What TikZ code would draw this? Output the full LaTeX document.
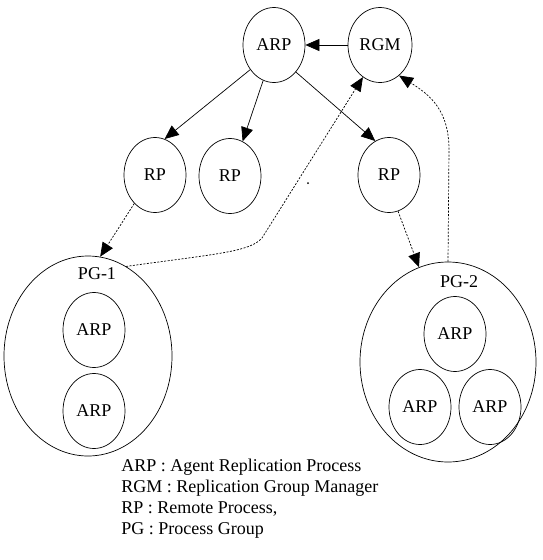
\documentclass[tikz,border=0pt]{standalone}
\usepackage{fontspec}
\setmainfont{Liberation Serif}
\usetikzlibrary{shapes.geometric,arrows.meta}
\begin{document}
\begin{tikzpicture}[x=1pt,y=-1pt, line width=0.7pt,
    proc/.style={draw, ellipse, inner sep=0pt, minimum width=62pt, minimum height=75pt, font=\fontsize{18}{21}\selectfont},
    group/.style={draw, ellipse, inner sep=0pt},
    lbl/.style={font=\fontsize{18}{21}\selectfont},
    legend/.style={anchor=west, inner sep=0pt, font=\fontsize{18}{21}\selectfont},
    sendto/.style={-{Triangle[length=14pt,width=12pt]}},
    linkto/.style={dash pattern=on 2pt off 1.5pt, -{Triangle[length=14pt,width=12pt]}}]
                \useasboundingbox (0,0) rectangle (543,560);

                % top: agent and manager
                \node[proc] (arp) at (274,45) {ARP};
                \node[proc, minimum width=64pt] (rgm) at (380,45) {RGM};

                % remote processes
                \node[proc] (rp1) at (155,175) {RP};
                \node[proc] (rp2) at (230,176) {RP};
                \node[proc] (rp3) at (389,175) {RP};

                % process groups
                \node[group, minimum width=168pt, minimum height=200pt] (pg1) at (88,356) {};
                \node[lbl] (pg1label) at (97,274) {PG-1};
                \node[proc] (pg1a) at (94,330) {ARP};
                \node[proc] (pg1b) at (94,411) {ARP};

                \node[group, minimum width=176pt, minimum height=200pt] (pg2) at (448,362) {};
                \node[lbl] (pg2label) at (459,282) {PG-2};
                \node[proc] (pg2a) at (455,334) {ARP};
                \node[proc] (pg2b) at (420,407) {ARP};
                \node[proc] (pg2c) at (490,407) {ARP};

                % solid arrows
                \draw [sendto] (rgm.west) -- (arp.east);
                \draw [sendto] (arp.226) -- (rp1.75);
                \draw [sendto] (arp.253) -- (rp2.70);
                \draw [sendto] (arp.-51) -- (rp3.112);

                % dashed arrows
                \draw [linkto] (rp1.234) -- (pg1.83);
                \draw [linkto] (rp3.-76) -- (pg2.107);
                \draw [linkto] (pg1.67) .. controls (215,254) and (250,252) .. (262,238) -- (rgm.242);
                \draw [linkto] (pg2.north) -- (449,150) .. controls (449,110) and (430,95) .. (rgm.-58);

                \fill (308,183) circle (1pt);

                % legend
                \node[legend] (l1) at (121,467) {ARP : Agent Replication Process};
                \node[legend] (l2) at (121,488) {RGM : Replication Group Manager};
                \node[legend] (l3) at (121,509) {RP : Remote Process,};
                \node[legend] (l4) at (121,530) {PG : Process Group};
\end{tikzpicture}
\end{document}
